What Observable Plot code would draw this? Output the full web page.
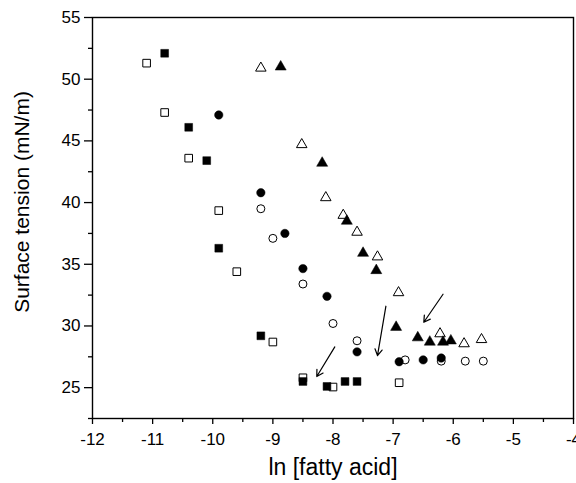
<!DOCTYPE html>
<html>
<head>
<meta charset="utf-8">
<script src="https://cdn.jsdelivr.net/npm/d3@7"></script>
<script src="https://cdn.jsdelivr.net/npm/@observablehq/plot@0.6"></script>
<style>
  html, body { margin: 0; padding: 0; background: #fff; }
  #chart svg { display: block; }
</style>
</head>
<body>
<div id="chart"></div>
<script>
// Filled squares
const filledSquareX = [-10.8, -10.4, -10.1, -9.9, -9.2, -8.5, -8.1, -7.8, -7.6];
const filledSquareY = [52.1, 46.1, 43.4, 36.3, 29.2, 25.5, 25.1, 25.5, 25.5];
// Open squares
const openSquareX = [-11.1, -10.8, -10.4, -9.9, -9.6, -9.0, -8.5, -8.0, -6.9];
const openSquareY = [51.3, 47.3, 43.6, 39.35, 34.4, 28.7, 25.8, 25.05, 25.4];
// Filled circles
const filledCircleX = [-9.9, -9.2, -8.8, -8.5, -8.1, -7.6, -6.9, -6.5, -6.2];
const filledCircleY = [47.1, 40.8, 37.5, 34.65, 32.4, 27.9, 27.1, 27.25, 27.4];
// Open circles
const openCircleX = [-9.2, -9.0, -8.5, -8.0, -7.6, -6.8, -6.2, -5.8, -5.5];
const openCircleY = [39.5, 37.1, 33.4, 30.2, 28.8, 27.25, 27.15, 27.15, 27.15];
// Filled triangles
const filledTriangleX = [-8.87, -8.18, -7.77, -7.5, -7.28, -6.95, -6.59, -6.39, -6.17, -6.04];
const filledTriangleY = [51.0, 43.2, 38.5, 35.9, 34.5, 29.9, 29.05, 28.7, 28.7, 28.8];
// Open triangles
const openTriangleX = [-9.2, -8.52, -8.12, -7.83, -7.6, -7.26, -6.91, -6.22, -5.82, -5.53];
const openTriangleY = [50.9, 44.7, 40.4, 38.97, 37.6, 35.6, 32.7, 29.37, 28.56, 28.9];
// Arrows (data coordinates)
const arrowX1 = [-7.97, -7.12, -6.17];
const arrowY1 = [28.3, 31.6, 32.57];
const arrowX2 = [-8.27, -7.26, -6.49];
const arrowY2 = [25.9, 27.6, 30.3];
// Ticks
const xMajorTicks = [-12, -11, -10, -9, -8, -7, -6, -5, -4];
const xMinorTicks = [-11.5, -10.5, -9.5, -8.5, -7.5, -6.5, -5.5, -4.5];
const yMajorTicks = [25, 30, 35, 40, 45, 50, 55];
const yMinorTicks = [22.5, 27.5, 32.5, 37.5, 42.5, 47.5, 52.5];

const pts = (xs, ys) => xs.map((x, i) => ({x, y: ys[i]}));
const arrows = arrowX1.map((x1, i) => ({x1, y1: arrowY1[i], x2: arrowX2[i], y2: arrowY2[i]}));

const font = "'Liberation Sans', Arial, sans-serif";
const fmt = (d) => String(d); // ASCII hyphen minus, as in the reference

const chart = Plot.plot({
  width: 576,
  height: 483,
  marginTop: 17,
  marginBottom: 65,
  marginLeft: 92,
  marginRight: 3,
  style: {fontFamily: font, fontSize: "17px", color: "#000", background: "#fff"},
  x: {domain: [-12, -4]},
  y: {domain: [22.5, 55]},
  marks: [
    Plot.axisX({ticks: xMinorTicks, tickSize: 4, text: null, label: null, stroke: "#000", strokeWidth: 1.3}),
    Plot.axisX({ticks: xMajorTicks, tickSize: 6, tickPadding: 8, tickFormat: fmt, label: null, stroke: "#000", strokeWidth: 1.3, fill: "#000"}),
    Plot.axisY({ticks: yMinorTicks, tickSize: 4, text: null, label: null, stroke: "#000", strokeWidth: 1.3}),
    Plot.axisY({ticks: yMajorTicks, tickSize: 8, tickPadding: 4, tickFormat: fmt, label: null, stroke: "#000", strokeWidth: 1.3, fill: "#000"}),
    Plot.frame({stroke: "#000", strokeWidth: 1.4}),
    Plot.arrow(arrows, {x1: "x1", y1: "y1", x2: "x2", y2: "y2", stroke: "#000", strokeWidth: 1.2, headLength: 9, bend: 0}),
    Plot.dot(pts(openSquareX, openSquareY), {x: "x", y: "y", symbol: "square", r: 4.3, fill: "#fff", stroke: "#000", strokeWidth: 1}),
    Plot.dot(pts(filledSquareX, filledSquareY), {x: "x", y: "y", symbol: "square", r: 4.4, fill: "#000", stroke: "#000", strokeWidth: 0.5}),
    Plot.dot(pts(openCircleX, openCircleY), {x: "x", y: "y", symbol: "circle", r: 4, fill: "#fff", stroke: "#000", strokeWidth: 1}),
    Plot.dot(pts(filledCircleX, filledCircleY), {x: "x", y: "y", symbol: "circle", r: 4.2, fill: "#000", stroke: "#000", strokeWidth: 0.5}),
    Plot.dot(pts(openTriangleX, openTriangleY), {x: "x", y: "y", symbol: "triangle", r: 3.9, fill: "#fff", stroke: "#000", strokeWidth: 1}),
    Plot.dot(pts(filledTriangleX, filledTriangleY), {x: "x", y: "y", symbol: "triangle", r: 4.1, fill: "#000", stroke: "#000", strokeWidth: 0.5}),
    Plot.text(["Surface tension (mN/m)"], {frameAnchor: "left", textAnchor: "middle", dx: -70, dy: -16, rotate: -90, fontSize: 21, fill: "#000", fontFamily: font}),
    Plot.text(["ln [fatty acid]"], {frameAnchor: "bottom", textAnchor: "middle", dy: 56, fontSize: 23, fill: "#000", fontFamily: font})
  ]
});
// enlarge tick labels directly on the text elements
d3.select(chart).selectAll('g[aria-label$="tick label"] text')
  .attr("font-size", 17)
  .style("font-size", "17px");
document.getElementById("chart").appendChild(chart);
</script>
</body>
</html>
